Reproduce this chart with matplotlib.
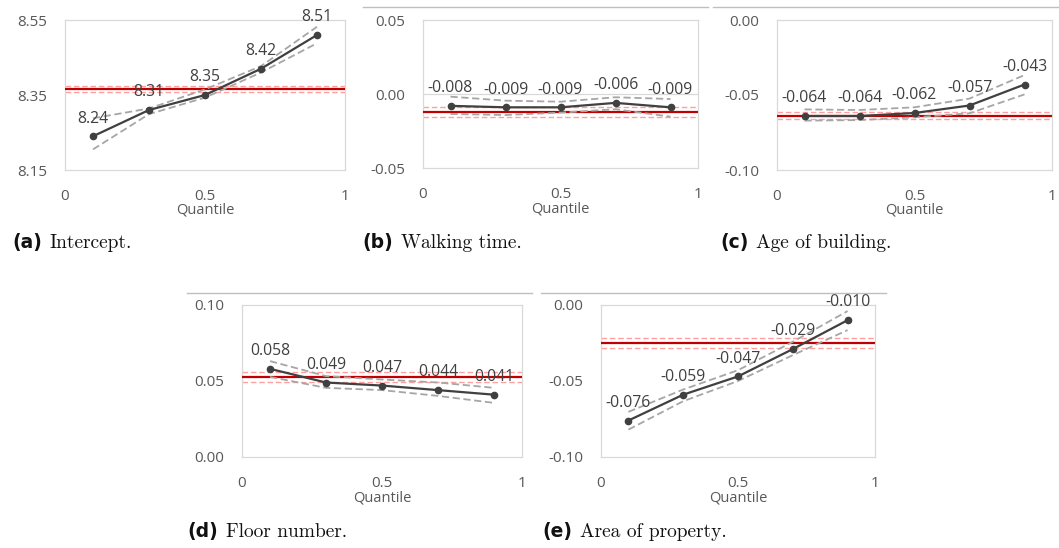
import matplotlib
matplotlib.use('Agg')
import matplotlib.pyplot as plt

W, H = 1059, 548

quantiles = [0.1, 0.3, 0.5, 0.7, 0.9]

# (a) Intercept
a_coef = [8.24, 8.31, 8.35, 8.42, 8.51]
a_upper = [8.288, 8.314, 8.365, 8.427, 8.532]
a_lower = [8.205, 8.299, 8.343, 8.410, 8.488]
a_ols, a_ols_hi, a_ols_lo = 8.366, 8.375, 8.357

# (b) Walking time
b_coef = [-0.008, -0.009, -0.009, -0.006, -0.009]
b_upper = [-0.0018, -0.0045, -0.0052, -0.0022, -0.0034]
b_lower = [-0.0135, -0.0142, -0.0126, -0.0103, -0.0153]
b_ols, b_ols_hi, b_ols_lo = -0.012, -0.0086, -0.0157

# (c) Age of building
c_coef = [-0.064, -0.064, -0.062, -0.057, -0.043]
c_upper = [-0.0596, -0.0600, -0.0582, -0.0524, -0.0367]
c_lower = [-0.0671, -0.0667, -0.0649, -0.0622, -0.0496]
c_ols, c_ols_hi, c_ols_lo = -0.0638, -0.0610, -0.0660

# (d) Floor number
d_coef = [0.058, 0.049, 0.047, 0.044, 0.041]
d_upper = [0.0631, 0.0532, 0.0510, 0.0490, 0.0455]
d_lower = [0.0527, 0.0455, 0.0440, 0.0402, 0.0356]
d_ols, d_ols_hi, d_ols_lo = 0.0527, 0.0560, 0.0495

# (e) Area of property
e_coef = [-0.076, -0.059, -0.047, -0.029, -0.010]
e_upper = [-0.0703, -0.0556, -0.0429, -0.0242, -0.0040]
e_lower = [-0.0820, -0.0633, -0.0500, -0.0330, -0.0165]
e_ols, e_ols_hi, e_ols_lo = -0.0248, -0.0220, -0.0281

panels = [
    # box (left, top, right, bottom) in px, ylim, yticks, ticklabels, label fmt, caption
    dict(box=(65, 20, 345, 170), ylim=(8.15, 8.55), yticks=[8.15, 8.35, 8.55],
         yticklabels=['8.15', '8.35', '8.55'], fmt='{:.2f}',
         coef=a_coef, up=a_upper, lo=a_lower, ols=(a_ols, a_ols_hi, a_ols_lo),
         tag='(a)', cap='Intercept.', cap_xy=(12, 243), rule=None, zero=False),
    dict(box=(423, 20, 698, 168), ylim=(-0.05, 0.05), yticks=[-0.05, 0.0, 0.05],
         yticklabels=['-0.05', '0.00', '0.05'], fmt='{:.3f}',
         coef=b_coef, up=b_upper, lo=b_lower, ols=(b_ols, b_ols_hi, b_ols_lo),
         tag='(b)', cap='Walking time.', cap_xy=(362, 243), rule=(363, 708, 7), zero=True),
    dict(box=(777, 20, 1052, 170), ylim=(-0.10, 0.0), yticks=[-0.10, -0.05, 0.0],
         yticklabels=['-0.10', '-0.05', '0.00'], fmt='{:.3f}',
         coef=c_coef, up=c_upper, lo=c_lower, ols=(c_ols, c_ols_hi, c_ols_lo),
         tag='(c)', cap='Age of building.', cap_xy=(720, 243), rule=(713, 1059, 7), zero=False),
    dict(box=(242, 305, 522, 457), ylim=(0.0, 0.10), yticks=[0.0, 0.05, 0.10],
         yticklabels=['0.00', '0.05', '0.10'], fmt='{:.3f}',
         coef=d_coef, up=d_upper, lo=d_lower, ols=(d_ols, d_ols_hi, d_ols_lo),
         tag='(d)', cap='Floor number.', cap_xy=(187, 532), rule=(187, 532, 293), zero=False),
    dict(box=(601, 305, 875, 457), ylim=(-0.10, 0.0), yticks=[-0.10, -0.05, 0.0],
         yticklabels=['-0.10', '-0.05', '0.00'], fmt='{:.3f}',
         coef=e_coef, up=e_upper, lo=e_lower, ols=(e_ols, e_ols_hi, e_ols_lo),
         tag='(e)', cap='Area of property.', cap_xy=(542, 532), rule=(541, 886, 293), zero=False),
]

TICK_COLOR = '#595959'
LINE_COLOR = '#404040'
CI_COLOR = '#a6a6a6'
RED = '#c00000'
LIGHT_RED = '#ff9f9f'
FONT = ['Open Sans', 'DejaVu Sans']

fig = plt.figure(figsize=(W / 100, H / 100), dpi=100)

for p in panels:
    l, t, r, b = p['box']
    ax = fig.add_axes([l / W, 1 - b / H, (r - l) / W, (b - t) / H])
    ax.set_xlim(0, 1)
    ax.set_ylim(*p['ylim'])

    if p['zero']:
        ax.axhline(0, color='#d9d9d9', lw=0.9, zorder=1)

    ols, hi, lo = p['ols']
    ax.axhline(hi, color=LIGHT_RED, lw=1.0, ls=(0, (4, 2)), zorder=2)
    ax.axhline(lo, color=LIGHT_RED, lw=1.0, ls=(0, (4, 2)), zorder=2)
    ax.axhline(ols, color=RED, lw=1.6, zorder=3)

    ax.plot(quantiles, p['up'], color=CI_COLOR, lw=1.3, ls=(0, (4, 2)), zorder=4)
    ax.plot(quantiles, p['lo'], color=CI_COLOR, lw=1.3, ls=(0, (4, 2)), zorder=4)
    ax.plot(quantiles, p['coef'], color=LINE_COLOR, lw=1.6, marker='o', ms=4.5, zorder=5)

    for x, y in zip(quantiles, p['coef']):
        ax.annotate(p['fmt'].format(y), (x, y), xytext=(0, 7), textcoords='offset points',
                    ha='center', va='bottom', fontsize=11.3, color=LINE_COLOR,
                    family=FONT, zorder=6)

    for s in ax.spines.values():
        s.set_color('#d9d9d9')
        s.set_linewidth(0.9)

    ax.set_xticks([0, 0.5, 1])
    ax.set_xticklabels(['0', '0.5', '1'])
    ax.set_yticks(p['yticks'])
    ax.set_yticklabels(p['yticklabels'])
    ax.tick_params(axis='both', length=0, labelsize=11, labelcolor=TICK_COLOR)
    ax.tick_params(axis='x', pad=14)
    ax.tick_params(axis='y', pad=13)
    for lab in ax.get_xticklabels() + ax.get_yticklabels():
        lab.set_family(FONT)

    ax.set_xlabel('Quantile', fontsize=10.5, color=TICK_COLOR, family=FONT)
    ax.xaxis.set_label_coords(0.5, -33 / (b - t))

    # caption under each panel
    cx, cy = p['cap_xy']
    t1 = fig.text(cx / W, 1 - cy / H, p['tag'], fontsize=13.5, fontweight='bold',
                  family=['DejaVu Sans'], va='center', ha='left', color='#111111')
    fig.add_artist(plt.Annotation(p['cap'], xy=(1, 0.5), xycoords=t1, xytext=(8, 0),
                                  textcoords='offset pixels', va='center', ha='left',
                                  fontsize=14, family=['cmr10'], color='#111111'))

    if p['rule'] is not None:
        x0, x1, y0 = p['rule']
        fig.add_artist(plt.Line2D([x0 / W, x1 / W], [1 - y0 / H, 1 - y0 / H],
                                  color='#bfbfbf', lw=1.0))

fig.savefig('out.png', dpi=100)
